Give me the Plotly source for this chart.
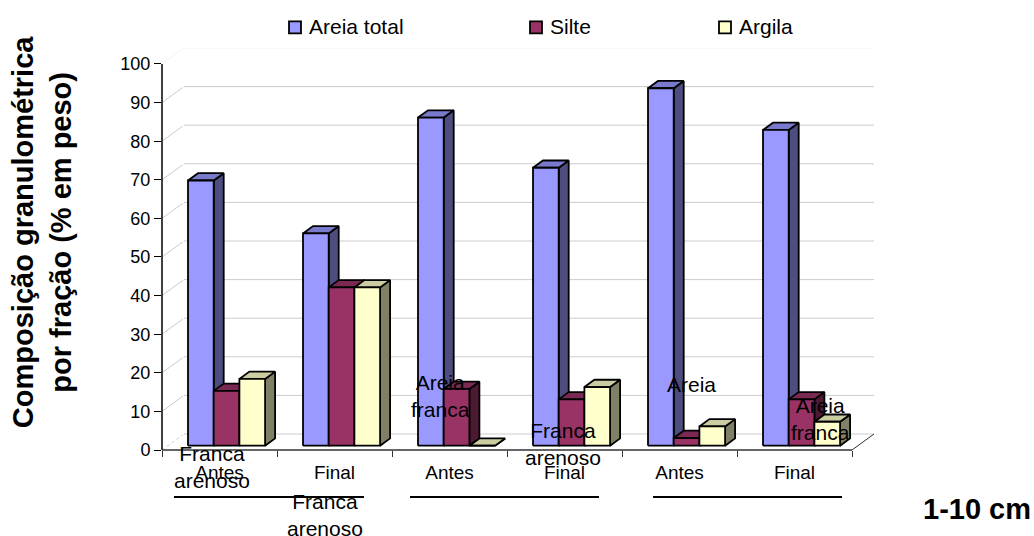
"""
Composição granulométrica por fração - 3D style column chart (Plotly)
"""

import plotly.graph_objects as go

FIG_W, FIG_H = 1034, 536

# Data
periods = ["Antes", "Final", "Antes", "Final", "Antes", "Final"]
areia_total = [68.7, 55, 85, 72, 92.6, 81.8]
silte = [14.2, 41, 14.7, 12, 2, 12]
argila = [17.3, 41, 0, 15.2, 5, 6.2]
y_ticks = [0, 10, 20, 30, 40, 50, 60, 70, 80, 90, 100]

series = [
    ("Areia total", areia_total, "#9999FF", "#4D4D80", "#7A7ACC"),
    ("Silte", silte, "#993366", "#4D1A33", "#7A2952"),
    ("Argila", argila, "#FFFFCC", "#808066", "#CCCCA3"),
]

# Front of the box in pixels, and how far the back wall is shifted from it
LEFT, RIGHT, TOP, BOTTOM = 162, 852, 63.7, 450
WALL_PX_X, WALL_PX_Y = 22, 16
unit_x = (RIGHT - LEFT) / len(periods)
unit_y = (BOTTOM - TOP) / 100


def paper_x(px):
    return (px - LEFT) / (RIGHT + WALL_PX_X - LEFT)


def paper_y(py):
    return (BOTTOM - py) / (BOTTOM - TOP + WALL_PX_Y)


# Depth projection of the 3D box, in data units
wall_dx = WALL_PX_X / unit_x
wall_dy = WALL_PX_Y / unit_y
bar_dx = 10 / unit_x
bar_dy = 7.3 / unit_y
lift_y = 4.3 / unit_y
bar_w = 25.7 / unit_x
first_gap = 26 / unit_x

fig = go.Figure()


def add_wall_line(xs, ys, color, width=1, dash="solid"):
    fig.add_trace(go.Scatter(
        x=xs, y=ys, mode="lines",
        line=dict(color=color, width=width, dash=dash),
        hoverinfo="skip", showlegend=False,
    ))


# Back wall gridlines and their skewed parts on the side wall
for tick in y_ticks:
    color = "#F2F2F2" if tick == 100 else "#CCCCCC"
    add_wall_line([0, wall_dx * 0.95], [tick, tick + wall_dy * 0.95], color,
                  dash="dot" if tick == 0 else "solid")
    add_wall_line([wall_dx, len(periods) + wall_dx], [tick + wall_dy, tick + wall_dy], color)

# Floor edge on the right
add_wall_line([len(periods), len(periods) + wall_dx], [0, wall_dy], "#333333")


def add_face(xs, ys, color):
    fig.add_trace(go.Scatter(
        x=xs, y=ys, mode="lines", fill="toself", fillcolor=color,
        line=dict(color="black", width=1.8),
        hoverinfo="skip", showlegend=False,
    ))


# Boxes are painted left to right so the nearer one covers the previous side
for i in range(len(periods)):
    for s, (name, values, front, side, top) in enumerate(series):
        x0 = i + first_gap + s * bar_w
        x1 = x0 + bar_w
        y0 = lift_y
        y1 = lift_y + values[i]
        add_face([x1, x1 + bar_dx, x1 + bar_dx, x1, x1],
                 [y0, y0 + bar_dy, y1 + bar_dy, y1, y0], side)
        add_face([x0, x0 + bar_dx, x1 + bar_dx, x1, x0],
                 [y1, y1 + bar_dy, y1 + bar_dy, y1, y1], top)
        add_face([x0, x1, x1, x0, x0], [y0, y0, y1, y1, y0], front)

annotations = []

# Soil class labels lying over the chart
soil_labels = [
    ("Franca<br>arenoso", 212, 467),
    ("Franca<br>arenoso", 325, 515),
    ("Areia<br>franca", 440, 396),
    ("Franca<br>arenoso", 563, 444),
    ("Areia", 691, 384),
    ("Areia<br>franca", 820, 419),
]
for text, px, py in soil_labels:
    annotations.append(dict(
        text=text, x=paper_x(px), y=paper_y(py), xref="paper", yref="paper",
        xanchor="center", yanchor="middle",
        showarrow=False, font=dict(size=21, color="black"), align="center",
    ))

# Axis title and depth label
annotations.append(dict(
    text="<b>Composição granulométrica<br>por fração (% em peso)</b>",
    x=paper_x(42), y=paper_y(232), xref="paper", yref="paper", textangle=-90,
    xanchor="center", yanchor="middle",
    showarrow=False, font=dict(size=29, color="black"), align="center",
))
annotations.append(dict(
    text="<b>1-10 cm</b>", x=paper_x(977), y=paper_y(509), xref="paper", yref="paper",
    xanchor="center", yanchor="middle",
    showarrow=False, font=dict(size=29, color="black"),
))

# Legend
legend_items = [(289, 0), (530, 1), (719, 2)]
shapes = []
for px, s in legend_items:
    shapes.append(dict(
        type="rect", xref="paper", yref="paper",
        x0=paper_x(px), x1=paper_x(px + 12), y0=paper_y(33), y1=paper_y(21),
        fillcolor=series[s][2], line=dict(color="black", width=1.8),
    ))
    annotations.append(dict(
        text=series[s][0], x=paper_x(px + 18), y=paper_y(26), xref="paper", yref="paper",
        xanchor="left", yanchor="middle", showarrow=False, font=dict(size=21, color="black"),
    ))

# Rules under the Antes/Final pairs
for x0, x1 in [(174, 364), (410, 599), (653, 842)]:
    shapes.append(dict(
        type="line", xref="paper", yref="paper",
        x0=paper_x(x0), x1=paper_x(x1), y0=paper_y(497), y1=paper_y(497),
        line=dict(color="black", width=2),
    ))

# Axis lines stop at the front of the box, not at the back wall
shapes.append(dict(type="line", xref="paper", yref="paper",
                   x0=paper_x(LEFT), x1=paper_x(LEFT), y0=paper_y(BOTTOM), y1=paper_y(TOP),
                   line=dict(color="black", width=1.5)))
shapes.append(dict(type="line", xref="paper", yref="paper",
                   x0=paper_x(LEFT), x1=paper_x(RIGHT), y0=paper_y(BOTTOM), y1=paper_y(BOTTOM),
                   line=dict(color="#333333", width=1.5)))

fig.update_layout(
    width=FIG_W, height=FIG_H,
    margin=dict(l=LEFT, r=FIG_W - RIGHT - WALL_PX_X, t=TOP - WALL_PX_Y, b=FIG_H - BOTTOM),
    paper_bgcolor="white", plot_bgcolor="white",
    font=dict(family="Liberation Sans, Arial, sans-serif", color="black"),
    showlegend=False,
    annotations=annotations, shapes=shapes,
    xaxis=dict(
        range=[0, len(periods) + wall_dx], showgrid=False, zeroline=False, showline=False,
        tickmode="array", tickvals=[i + 0.5 for i in range(len(periods))], ticktext=periods,
        ticks="", tickfont=dict(size=19), ticklabelstandoff=9,
        minor=dict(tickvals=list(range(len(periods) + 1)), ticks="outside",
                   ticklen=6, tickcolor="#333333", tickwidth=1, showgrid=False),
    ),
    yaxis=dict(
        range=[0, 100 + wall_dy], showgrid=False, zeroline=False, showline=False,
        tickmode="array", tickvals=y_ticks,
        ticks="outside", ticklen=7, tickcolor="black", tickwidth=1,
        tickfont=dict(size=18),
    ),
)

# The page keeps the browser's default body margin otherwise
fig.write_html("out.html", config={"displayModeBar": False},
               post_script="document.body.style.margin = '0';")
